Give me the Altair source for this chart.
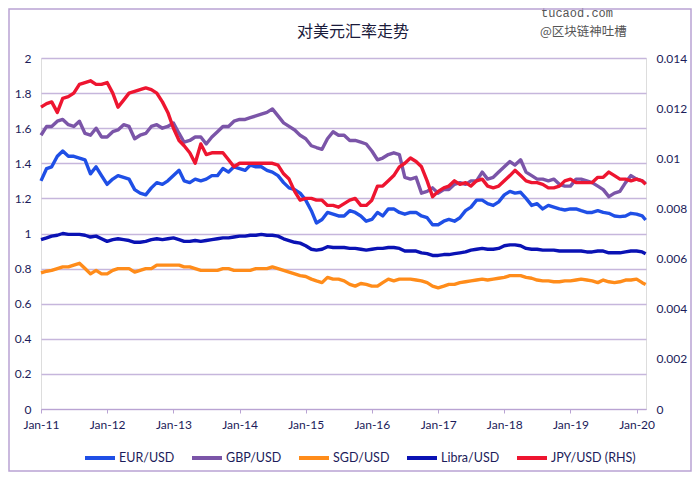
import altair as alt
import pandas as pd

# ---- data (monthly readings, Jan 2011 .. Feb 2020, plus last point) ----
dates = list(pd.date_range("2011-01-01", periods=110, freq="MS").strftime("%Y-%m-%dT00:00")) + ["2020-02-20T00:00"]

eur = [1.30, 1.37, 1.38, 1.44, 1.47, 1.44, 1.44, 1.43, 1.42, 1.34, 1.38, 1.33,
       1.28, 1.31, 1.33, 1.32, 1.31, 1.25, 1.23, 1.22, 1.26, 1.29, 1.28, 1.30,
       1.33, 1.36, 1.30, 1.29, 1.31, 1.30, 1.31, 1.33, 1.33, 1.37, 1.35, 1.38,
       1.37, 1.36, 1.39, 1.38, 1.38, 1.36, 1.35, 1.33, 1.29, 1.26, 1.25, 1.23,
       1.19, 1.13, 1.06, 1.08, 1.12, 1.11, 1.10, 1.10, 1.13, 1.12, 1.10, 1.07,
       1.08, 1.12, 1.10, 1.14, 1.14, 1.12, 1.11, 1.12, 1.12, 1.10, 1.09, 1.05,
       1.05, 1.07, 1.08, 1.07, 1.09, 1.13, 1.15, 1.19, 1.19, 1.17, 1.16, 1.18,
       1.22, 1.24, 1.23, 1.235, 1.20, 1.16, 1.17, 1.14, 1.16, 1.15, 1.14, 1.134,
       1.14, 1.14, 1.13, 1.12, 1.12, 1.13, 1.12, 1.115, 1.10, 1.096, 1.10, 1.115,
       1.11, 1.10, 1.077]

gbp = [1.56, 1.61, 1.61, 1.64, 1.65, 1.62, 1.61, 1.64, 1.57, 1.56, 1.60, 1.55,
       1.55, 1.58, 1.59, 1.62, 1.61, 1.54, 1.56, 1.57, 1.61, 1.62, 1.60, 1.61,
       1.63, 1.57, 1.52, 1.53, 1.55, 1.55, 1.51, 1.55, 1.58, 1.61, 1.61, 1.64,
       1.65, 1.65, 1.66, 1.67, 1.68, 1.69, 1.71, 1.67, 1.63, 1.61, 1.59, 1.56,
       1.54, 1.50, 1.49, 1.48, 1.54, 1.58, 1.56, 1.56, 1.53, 1.53, 1.52, 1.51,
       1.47, 1.42, 1.43, 1.45, 1.46, 1.45, 1.32, 1.31, 1.32, 1.23, 1.24, 1.26,
       1.23, 1.25, 1.25, 1.28, 1.29, 1.28, 1.30, 1.30, 1.35, 1.31, 1.32, 1.35,
       1.38, 1.41, 1.39, 1.42, 1.35, 1.33, 1.31, 1.31, 1.30, 1.31, 1.28, 1.27,
       1.27, 1.31, 1.31, 1.30, 1.29, 1.27, 1.25, 1.21, 1.23, 1.24, 1.29, 1.33,
       1.31, 1.30, 1.285]

sgd = [0.775, 0.785, 0.79, 0.80, 0.81, 0.81, 0.82, 0.83, 0.80, 0.77, 0.79, 0.77,
       0.77, 0.79, 0.80, 0.80, 0.80, 0.78, 0.79, 0.80, 0.80, 0.82, 0.82, 0.82,
       0.82, 0.82, 0.81, 0.81, 0.80, 0.79, 0.79, 0.79, 0.79, 0.80, 0.80, 0.79,
       0.79, 0.79, 0.79, 0.80, 0.80, 0.80, 0.81, 0.80, 0.79, 0.78, 0.77, 0.76,
       0.755, 0.74, 0.73, 0.72, 0.75, 0.74, 0.74, 0.73, 0.71, 0.70, 0.715, 0.71,
       0.70, 0.70, 0.72, 0.74, 0.73, 0.74, 0.74, 0.74, 0.735, 0.73, 0.72, 0.70,
       0.69, 0.70, 0.71, 0.71, 0.72, 0.725, 0.73, 0.735, 0.74, 0.735, 0.74, 0.745,
       0.75, 0.76, 0.76, 0.76, 0.75, 0.745, 0.735, 0.73, 0.73, 0.725, 0.725, 0.73,
       0.73, 0.735, 0.74, 0.735, 0.73, 0.72, 0.735, 0.725, 0.72, 0.725, 0.735, 0.735,
       0.74, 0.72, 0.71]

libra = [0.965, 0.975, 0.985, 0.99, 1.00, 0.995, 0.995, 0.995, 0.99, 0.98, 0.985, 0.97,
         0.955, 0.965, 0.97, 0.965, 0.96, 0.95, 0.95, 0.955, 0.965, 0.97, 0.965, 0.97,
         0.975, 0.965, 0.955, 0.955, 0.96, 0.955, 0.96, 0.965, 0.97, 0.975, 0.975, 0.98,
         0.985, 0.985, 0.99, 0.99, 0.995, 0.99, 0.99, 0.985, 0.97, 0.96, 0.95, 0.945,
         0.93, 0.91, 0.905, 0.91, 0.925, 0.92, 0.92, 0.92, 0.915, 0.915, 0.91, 0.905,
         0.91, 0.915, 0.915, 0.92, 0.92, 0.915, 0.90, 0.90, 0.90, 0.89, 0.885, 0.875,
         0.875, 0.88, 0.88, 0.885, 0.89, 0.895, 0.905, 0.91, 0.915, 0.91, 0.91, 0.915,
         0.93, 0.935, 0.935, 0.93, 0.915, 0.91, 0.91, 0.905, 0.905, 0.905, 0.90, 0.90,
         0.90, 0.90, 0.90, 0.895, 0.895, 0.90, 0.90, 0.89, 0.89, 0.89, 0.895, 0.90,
         0.90, 0.895, 0.885]

jpy = [0.01204, 0.01218, 0.01225, 0.01183, 0.01239, 0.01246, 0.01260, 0.01295, 0.01302, 0.01309, 0.01295, 0.01295,
       0.01302, 0.01260, 0.01204, 0.01232, 0.01260, 0.01267, 0.01274, 0.01281, 0.01274, 0.01260, 0.01225, 0.01183,
       0.01120, 0.01071, 0.01050, 0.01022, 0.00980, 0.01057, 0.01015, 0.01022, 0.01022, 0.01022, 0.00994, 0.00966,
       0.00980, 0.00980, 0.00980, 0.00980, 0.00980, 0.00980, 0.00980, 0.00973, 0.00938, 0.00917, 0.00868, 0.00833,
       0.00840, 0.00840, 0.00833, 0.00833, 0.00812, 0.00812, 0.00805, 0.00819, 0.00833, 0.00840, 0.00812, 0.00812,
       0.00833, 0.00889, 0.00889, 0.00910, 0.00931, 0.00966, 0.00980, 0.01001, 0.00987, 0.00966, 0.00910, 0.00847,
       0.00868, 0.00882, 0.00889, 0.00910, 0.00896, 0.00903, 0.00889, 0.00910, 0.00917, 0.00889, 0.00882, 0.00889,
       0.00910, 0.00931, 0.00952, 0.00931, 0.00910, 0.00903, 0.00903, 0.00896, 0.00882, 0.00882, 0.00889, 0.00910,
       0.00917, 0.00903, 0.00903, 0.00903, 0.00903, 0.00924, 0.00924, 0.00945, 0.00931, 0.00917, 0.00917, 0.00910,
       0.00917, 0.00910, 0.00896]

series_names = ["EUR/USD", "GBP/USD", "SGD/USD", "Libra/USD", "JPY/USD (RHS)"]
series_colors = ["#1f4fe6", "#7b55a8", "#ff8c1a", "#0a12b4", "#ee1530"]
left_ticks = [0, 0.2, 0.4, 0.6, 0.8, 1.0, 1.2, 1.4, 1.6, 1.8, 2.0]
right_ticks = [0, 0.002, 0.004, 0.006, 0.008, 0.010, 0.012, 0.014]
x_years = list(range(2011, 2021))
title_text = "对美元汇率走势"
watermark = ["tucaod.com", "@区块链神吐槽"]

# ---- tables ----
left_df = pd.concat([
    pd.DataFrame({"date": dates, "series": name, "value": vals})
    for name, vals in zip(series_names[:4], [eur, gbp, sgd, libra])
])
right_df = pd.DataFrame({"date": dates, "series": series_names[4], "value": jpy})

FONT = "Lato"
TXT = "#1c1c5a"
GRID = "#c6b6dc"

W, H = 605, 351

x_enc = alt.X(
    "date:T",
    title=None,
    scale=alt.Scale(domain=[alt.DateTime(year=2011, month=1, date=1),
                            alt.DateTime(year=2020, month=2, date=22)]),
    axis=alt.Axis(values=[alt.DateTime(year=y, month=1, date=1) for y in x_years],
                  format="%b-%y", grid=False, domainColor="#b9a3d3", tickColor="#b9a3d3",
                  tickSize=4, labelPadding=6, labelFontSize=12, labelColor=TXT,
                  labelFont=FONT, labelFlush=False),
)

legend = alt.Legend(title=None, orient="none", direction="horizontal",
                    legendX=42, legendY=383, symbolType="stroke", symbolSize=900,
                    symbolStrokeWidth=4, labelOffset=2, columnPadding=9,
                    labelFontSize=12.5, labelColor=TXT, labelFont=FONT)

color_enc = alt.Color("series:N",
                      scale=alt.Scale(domain=series_names, range=series_colors),
                      sort=series_names, legend=legend)

left = alt.Chart(left_df).mark_line(strokeWidth=3.4, strokeJoin="round").encode(
    x=x_enc,
    y=alt.Y("value:Q", title=None,
            scale=alt.Scale(domain=[0, 2], nice=False),
            axis=alt.Axis(values=left_ticks, format="~g", grid=True, gridColor=GRID,
                          gridWidth=1.3, domain=False, ticks=False, labelPadding=10,
                          labelFontSize=12, labelColor=TXT, labelFont=FONT)),
    color=color_enc,
    detail="series:N",
)

right = alt.Chart(right_df).mark_line(strokeWidth=3.4, strokeJoin="round").encode(
    x=x_enc,
    y=alt.Y("value:Q", title=None,
            scale=alt.Scale(domain=[0, 0.014], nice=False),
            axis=alt.Axis(orient="right", values=right_ticks, format="~g", grid=False,
                          domain=False, ticks=False, labelPadding=10,
                          labelFontSize=12, labelColor=TXT, labelFont=FONT)),
    color=color_enc,
)

# title, watermark text and chart border (decoration)
title = alt.Chart(pd.DataFrame({"t": [title_text]})).mark_text(
    align="center", baseline="middle", font="Noto Sans CJK SC", fontSize=16, color="#1a1a3a"
).encode(x=alt.value(312), y=alt.value(-26), text="t:N")
wm1 = alt.Chart(pd.DataFrame({"t": [watermark[0]]})).mark_text(
    align="left", baseline="middle", font="Liberation Mono", fontSize=12, color="#555555"
).encode(x=alt.value(500), y=alt.value(-45), text="t:N")
wm2 = alt.Chart(pd.DataFrame({"t": [watermark[1]]})).mark_text(
    align="left", baseline="middle", font="Noto Sans CJK SC", fontSize=12.5, color="#555555"
).encode(x=alt.value(499), y=alt.value(-26), text="t:N")

border = alt.Chart(pd.DataFrame({"a": [0]})).mark_rect(
    fill=None, stroke="#b9a3d3", strokeWidth=1.5, clip=False
).encode(x=alt.value(-32), x2=alt.value(W + 45), y=alt.value(-49), y2=alt.value(H + 62))

chart = alt.layer(left, right, title, wm1, wm2, border).resolve_scale(y="independent").properties(
    width=W, height=H,
    padding={"left": 33, "top": 50, "right": 46, "bottom": 63},
    autosize=alt.AutoSizeParams(type="none"),
).configure_view(stroke=None).configure(background="white")

chart.save("out.html", embed_options={"renderer": "svg", "actions": False})
